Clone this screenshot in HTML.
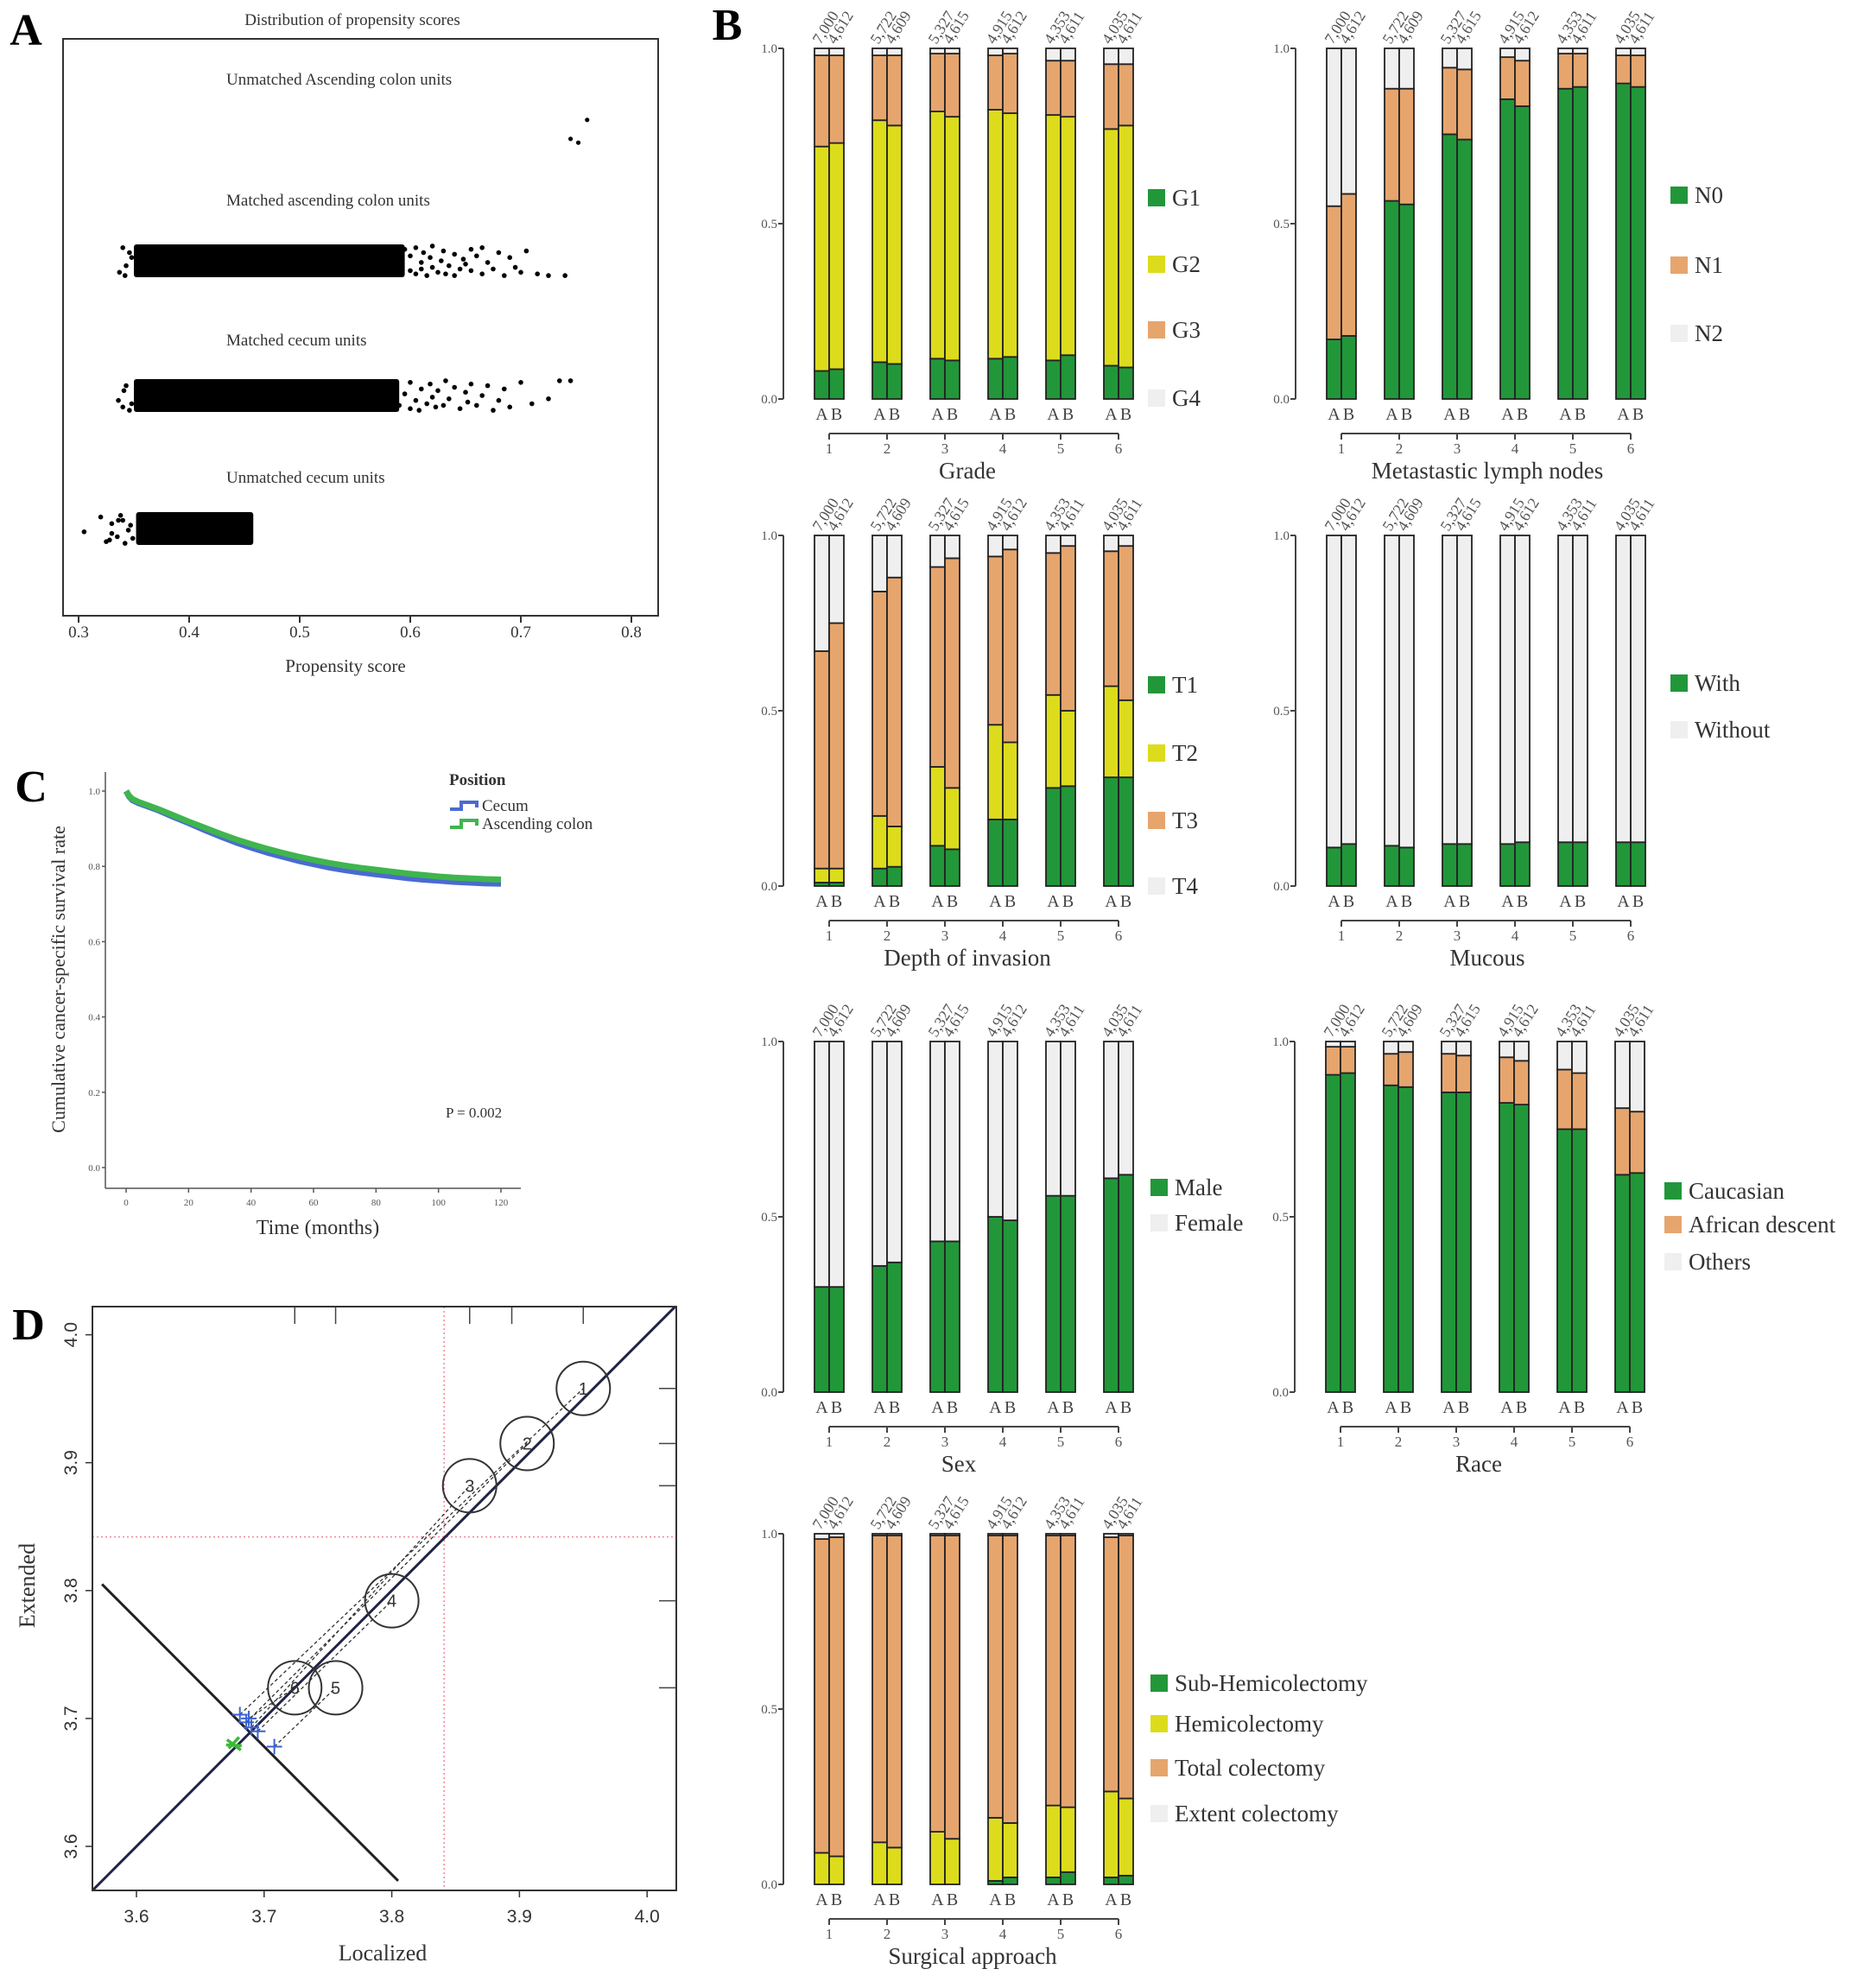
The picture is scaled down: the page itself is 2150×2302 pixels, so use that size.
<!DOCTYPE html>
<html><head><meta charset="utf-8"><style>
html,body{margin:0;padding:0;background:#fff;}
svg{display:block;}
text{font-family:"Liberation Serif",serif;}
.sans{font-family:"Liberation Sans",sans-serif;}
</style></head><body>
<svg id="fig" width="2150" height="2302" viewBox="0 0 2150 2302" xmlns="http://www.w3.org/2000/svg"></svg>
<script>
// ---------- Panel A data ----------
const aTicks = [0.3,0.4,0.5,0.6,0.7,0.8];
const unmatchedAscPts = [0.760,0.745,0.752];
const unmatchedAscJit = [-0.6,0.4,0.6];
const matchedAscCore = [0.35,0.595];
const matchedAscTail = [0.59,0.595,0.60,0.60,0.605,0.605,0.61,0.61,0.612,0.615,0.618,0.62,0.62,0.625,0.628,0.63,0.632,0.635,0.64,0.64,0.645,0.648,0.65,0.655,0.655,0.66,0.665,0.665,0.67,0.675,0.68,0.685,0.69,0.695,0.70,0.705,0.715,0.725,0.74,0.34,0.337,0.343,0.346,0.342,0.348];
const matchedAscJitT = [0.2,-0.7,0.6,-0.3,0.8,-0.8,0.1,0.5,-0.5,0.9,-0.2,0.4,-0.9,0.7,0.0,-0.6,0.8,0.3,-0.4,0.9,0.5,-0.1,0.2,-0.7,0.6,-0.3,0.8,-0.8,0.1,0.5,-0.5,0.9,-0.2,0.4,0.7,-0.6,0.8,0.9,0.9,-0.8,0.7,0.3,-0.5,0.9,-0.2];
const matchedCecCore = [0.35,0.59];
const matchedCecTail = [0.585,0.59,0.595,0.60,0.60,0.605,0.608,0.61,0.615,0.618,0.62,0.623,0.625,0.63,0.632,0.635,0.64,0.645,0.65,0.652,0.655,0.66,0.665,0.67,0.675,0.68,0.685,0.69,0.70,0.71,0.725,0.735,0.745,0.34,0.336,0.343,0.346,0.341,0.348];
const matchedCecJitT = [-0.5,0.6,-0.1,0.8,-0.8,0.3,0.9,-0.4,0.5,-0.7,0.1,0.7,-0.3,0.6,-0.9,0.2,-0.5,0.8,-0.2,0.4,-0.7,0.6,0.0,-0.6,0.9,0.3,-0.4,0.7,-0.8,0.5,0.2,-0.9,-0.9,0.7,0.3,-0.6,0.9,-0.3,0.5];
const unmatchedCecCore = [0.352,0.458];
const unmatchedCecTail = [0.305,0.32,0.325,0.33,0.335,0.34,0.345,0.33,0.328,0.338,0.342,0.347,0.336,0.349];
const unmatchedCecJitT = [0.2,-0.7,0.8,-0.3,0.5,-0.5,0.1,0.3,0.7,-0.8,0.9,-0.2,-0.5,0.6];

// ---------- Panel B data ----------
const groups = ["1","2","3","4","5","6"];
const countsA = ["7,000","5,722","5,327","4,915","4,353","4,035"];
const countsB = ["4,612","4,609","4,615","4,612","4,611","4,611"];
const gradeG1 = [0.08,0.085,0.105,0.10,0.115,0.11,0.115,0.12,0.11,0.125,0.095,0.09];
const gradeG2 = [0.64,0.645,0.69,0.68,0.705,0.695,0.71,0.695,0.70,0.68,0.675,0.69];
const gradeG3 = [0.26,0.25,0.185,0.20,0.165,0.18,0.155,0.17,0.155,0.16,0.185,0.175];
const nodeN0 = [0.17,0.18,0.565,0.555,0.755,0.74,0.855,0.835,0.885,0.89,0.90,0.89];
const nodeN1 = [0.38,0.405,0.32,0.33,0.19,0.20,0.12,0.13,0.10,0.095,0.08,0.09];
const depthT1 = [0.01,0.01,0.05,0.055,0.115,0.105,0.19,0.19,0.28,0.285,0.31,0.31];
const depthT2 = [0.04,0.04,0.15,0.115,0.225,0.175,0.27,0.22,0.265,0.215,0.26,0.22];
const depthT3 = [0.62,0.70,0.64,0.71,0.57,0.655,0.48,0.55,0.405,0.47,0.385,0.44];
const mucWith = [0.11,0.12,0.115,0.11,0.12,0.12,0.12,0.125,0.125,0.125,0.125,0.125];
const sexMale = [0.30,0.30,0.36,0.37,0.43,0.43,0.50,0.49,0.56,0.56,0.61,0.62];
const raceCau = [0.905,0.91,0.875,0.87,0.855,0.855,0.825,0.82,0.75,0.75,0.62,0.625];
const raceAfr = [0.08,0.075,0.09,0.10,0.11,0.105,0.13,0.125,0.17,0.16,0.19,0.175];
const surgSub = [0,0,0,0,0,0,0.01,0.02,0.02,0.035,0.02,0.025];
const surgHemi = [0.09,0.08,0.12,0.105,0.15,0.13,0.18,0.155,0.205,0.185,0.245,0.22];
const surgTotal = [0.895,0.91,0.875,0.89,0.845,0.865,0.805,0.82,0.77,0.775,0.725,0.75];
const bTicks = [0,0.5,1];

// ---------- Panel C data ----------
const months = [0,1,2,4,6,8,10,15,20,25,30,35,40,45,50,55,60,65,70,75,80,85,90,95,100,105,110,115,120];
const survCecum = [1.0,0.985,0.976,0.968,0.962,0.956,0.95,0.932,0.915,0.897,0.88,0.864,0.85,0.837,0.826,0.815,0.806,0.797,0.79,0.784,0.779,0.774,0.769,0.765,0.762,0.759,0.757,0.755,0.754];
const survAsc = [1.0,0.987,0.979,0.971,0.965,0.959,0.953,0.936,0.919,0.903,0.887,0.872,0.859,0.847,0.836,0.826,0.817,0.809,0.802,0.796,0.791,0.786,0.781,0.777,0.773,0.770,0.768,0.766,0.765];
const cXTicks = [0,20,40,60,80,100,120];
const cYTicks = [0,0.2,0.4,0.6,0.8,1.0];

// ---------- Panel D data ----------
const dTicks = [3.6,3.7,3.8,3.9,4.0];
const circLabels = ["1","2","3","4","5","6"];
const circX = [3.950,3.906,3.861,3.800,3.756,3.724];
const circY = [3.958,3.915,3.882,3.792,3.724,3.724];
const plusX = [3.681,3.686,3.690,3.695,3.708,3.688];
const plusY = [3.703,3.697,3.693,3.690,3.678,3.700];
const greenX = [3.677];
const greenY = [3.680];
const refLoc = [3.841];
const refExt = [3.842];
const rugTopX = [3.724,3.756,3.861,3.894,3.950];
const rugRightY = [3.958,3.915,3.882,3.792,3.724];

const NS="http://www.w3.org/2000/svg";
const svg=document.getElementById('fig');
function el(tag,attrs,parent,txt){const e=document.createElementNS(NS,tag);for(const k in attrs)e.setAttribute(k,attrs[k]);if(txt!==undefined)e.textContent=txt;(parent||svg).appendChild(e);return e;}
const GREEN="#21973a",YEL="#dcdc1c",ORA="#e6a56d",GRY="#efefef";

// ================= Panel A =================
const gA=el('g',{});


const ax=v=>91+(v-0.3)*1280;
let t=el('text',{x:30,y:52,'font-size':52,'font-weight':'bold','text-anchor':'middle'},gA,'A');

t=el('text',{x:408,y:29,'font-size':19,fill:'#333','text-anchor':'middle'},gA,'Distribution of propensity scores');

let r=el('rect',{x:73,y:45,width:689,height:668,fill:'none',stroke:'#333','stroke-width':2},gA);

aTicks.forEach(v=>{
  el('line',{x1:ax(v),x2:ax(v),y1:713,y2:721,stroke:'#333','stroke-width':2},gA);
  const tt=el('text',{x:ax(v),y:738,'font-size':19,fill:'#333','text-anchor':'middle'},gA,v.toFixed(1));
  
});
t=el('text',{x:400,y:778,'font-size':21,fill:'#333','text-anchor':'middle'},gA,'Propensity score');

const groupLabels=[["Unmatched Ascending colon units",98],["Matched ascending colon units",238],["Matched cecum units",400],["Unmatched cecum units",559]];
groupLabels.forEach(g=>{const tt=el('text',{x:262,y:g[1],'font-size':19,fill:'#333'},gA,g[0]);});
function band(core,tail,jit,yc,h,name){
  const b=el('rect',{x:ax(core[0]),y:yc-h/2,width:ax(core[1])-ax(core[0]),height:h,fill:'#000',rx:3},gA);
  
  tail.forEach((v,i)=>{const c=el('circle',{cx:ax(v),cy:yc+jit[i]*h/2,r:2.8,fill:'#000'},gA);});
}
unmatchedAscPts.forEach((v,i)=>{const c=el('circle',{cx:ax(v),cy:152+unmatchedAscJit[i]*22,r:2.6,fill:'#000'},gA);});
band(matchedAscCore,matchedAscTail,matchedAscJitT,302,38,'matched-asc');
band(matchedCecCore,matchedCecTail,matchedCecJitT,458,38,'matched-cecum');
band(unmatchedCecCore,unmatchedCecTail,unmatchedCecJitT,612,38,'unmatched-cecum');

// ================= Panel B =================
t=el('text',{x:842,y:46,'font-size':52,'font-weight':'bold','text-anchor':'middle'},svg,'B');


function stackPanel(name,axisX,zeroY,series,colors,labels,legX,legYs,title,titleX){
  const g=el('g',{});
  
  
  const H=406;
  const yv=v=>zeroY-v*H;
  el('line',{x1:axisX,x2:axisX,y1:yv(1),y2:yv(0),stroke:'#444','stroke-width':2},g);
  bTicks.forEach(v=>{
    el('line',{x1:axisX-6,x2:axisX,y1:yv(v),y2:yv(v),stroke:'#444','stroke-width':2},g);
    const tt=el('text',{x:axisX-7,y:yv(v)+5,'font-size':15,fill:'#555','text-anchor':'end'},g,v.toFixed(1));
    
  });
  const gc=i=>axisX+53+67*i;
  groups.forEach((gname,gi)=>{
    [0,1].forEach(k=>{
      const idx=gi*2+k;const x0=gc(gi)-17+17*k;
      let cum=0;
      series.forEach((arr,si)=>{
        const v=arr[idx];
        const rr=el('rect',{x:x0,y:yv(cum+v),width:17,height:v*H,fill:colors[si],stroke:'#222','stroke-width':1.8},g);
        
        
        cum+=v;
      });
      const rest=el('rect',{x:x0,y:yv(1),width:17,height:(1-cum)*H,fill:GRY,stroke:'#222','stroke-width':1.8},g);
      
      
      const ab=el('text',{x:x0+8.5,y:zeroY+24,'font-size':20,fill:'#444','text-anchor':'middle'},g,k?'B':'A');
      
      const cl=el('text',{x:0,y:0,'font-size':18,fill:'#555',transform:`translate(${x0+7},${yv(1)-4}) rotate(-58)`},g,k?countsB[gi]:countsA[gi]);
      
    });
    el('line',{x1:gc(gi),x2:gc(gi),y1:zeroY+40,y2:zeroY+47,stroke:'#444','stroke-width':2},g);
    const gt=el('text',{x:gc(gi),y:zeroY+63,'font-size':17,fill:'#555','text-anchor':'middle'},g,gname);
    
  });
  el('line',{x1:gc(0),x2:gc(5),y1:zeroY+40,y2:zeroY+40,stroke:'#444','stroke-width':2},g);
  const ti=el('text',{x:titleX,y:zeroY+92,'font-size':27,fill:'#333','text-anchor':'middle'},g,title);
  
  labels.forEach((lb,i)=>{
    const sq=el('rect',{x:legX,y:legYs[i]-10,width:20,height:20,fill:i<colors.length?colors[i]:GRY},g);
    
    const lt=el('text',{x:legX+28,y:legYs[i]+9,'font-size':27,fill:'#333'},g,lb);
    
  });
}
stackPanel('grade',907,462,[gradeG1,gradeG2,gradeG3],[GREEN,YEL,ORA],["G1","G2","G3","G4"],1329,[229,306,382,461],'Grade',1120);
stackPanel('lymph-nodes',1500,462,[nodeN0,nodeN1],[GREEN,ORA],["N0","N1","N2"],1934,[226,307,386],'Metastastic lymph nodes',1722);
stackPanel('depth',907,1026,[depthT1,depthT2,depthT3],[GREEN,YEL,ORA],["T1","T2","T3","T4"],1329,[793,872,950,1026],'Depth of invasion',1120);
stackPanel('mucous',1500,1026,[mucWith],[GREEN],["With","Without"],1934,[791,845],'Mucous',1722);
stackPanel('sex',907,1612,[sexMale],[GREEN],["Male","Female"],1332,[1375,1416],'Sex',1110);
stackPanel('race',1499,1612,[raceCau,raceAfr],[GREEN,ORA],["Caucasian","African descent","Others"],1927,[1379,1418,1461],'Race',1712);
stackPanel('surgical',907,2182,[surgSub,surgHemi,surgTotal],[GREEN,YEL,ORA],["Sub-Hemicolectomy","Hemicolectomy","Total colectomy","Extent colectomy"],1332,[1949,1996,2047,2100],'Surgical approach',1126);

// ================= Panel C =================
const gC=el('g',{});


const cx=m=>146+m*(580-146)/120;
const cy=v=>1352-v*(1352-916);
t=el('text',{x:36,y:928,'font-size':52,'font-weight':'bold','text-anchor':'middle'},gC,'C');

el('line',{x1:122,x2:122,y1:894,y2:1376,stroke:'#555','stroke-width':1.5},gC);
el('line',{x1:122,x2:603,y1:1376,y2:1376,stroke:'#555','stroke-width':1.5},gC);
cYTicks.forEach(v=>{
  el('line',{x1:118,x2:122,y1:cy(v),y2:cy(v),stroke:'#555','stroke-width':1.5},gC);
  const tt=el('text',{x:116,y:cy(v)+4,'font-size':11,fill:'#555','text-anchor':'end'},gC,v.toFixed(1));
  
});
cXTicks.forEach(m=>{
  el('line',{x1:cx(m),x2:cx(m),y1:1376,y2:1381,stroke:'#555','stroke-width':1.5},gC);
  const tt=el('text',{x:cx(m),y:1396,'font-size':11,fill:'#555','text-anchor':'middle'},gC,String(m));
  
});
function curvePath(xs,ys){let d=`M${cx(xs[0])},${cy(ys[0])}`;for(let i=1;i<xs.length;i++){d+=`L${cx(xs[i])},${cy(ys[i])}`;}return d;}
let p=el('path',{d:curvePath(months,survCecum),fill:'none',stroke:'#4a6bd0','stroke-width':7,'stroke-linejoin':'round'},gC);

p=el('path',{d:curvePath(months,survAsc),fill:'none',stroke:'#3fb54e','stroke-width':7,'stroke-linejoin':'round'},gC);

t=el('text',{x:0,y:0,'font-size':22,fill:'#333','text-anchor':'middle',transform:'translate(75,1134) rotate(-90)'},gC,'Cumulative cancer-specific survival rate');

t=el('text',{x:368,y:1429,'font-size':24,fill:'#333','text-anchor':'middle'},gC,'Time (months)');

t=el('text',{x:520,y:909,'font-size':19,fill:'#333','font-weight':'bold'},gC,'Position');

[["Cecum",933,'#4a6bd0'],["Ascending colon",954,'#3fb54e']].forEach(l=>{
  const ic=el('path',{d:`M521,${l[1]+4}L534,${l[1]+4}L534,${l[1]-4}L552,${l[1]-4}L552,${l[1]+2}`,fill:'none',stroke:l[2],'stroke-width':4},gC);
  
  const lt=el('text',{x:558,y:l[1]+6,'font-size':19,fill:'#333'},gC,l[0]);
  
});
t=el('text',{x:516,y:1294,'font-size':17,fill:'#333'},gC,'P = 0.002');


// ================= Panel D =================
const gD=el('g',{});


const dx=v=>158+(v-3.6)*1478;
const dy=v=>2138-(v-3.6)*1481;
t=el('text',{x:33,y:1551,'font-size':52,'font-weight':'bold','text-anchor':'middle'},gD,'D');

const clip=el('clipPath',{id:'dclip'},gD);el('rect',{x:107,y:1513,width:676,height:676},clip);
const gDi=el('g',{'clip-path':'url(#dclip)'},gD);
refLoc.forEach(v=>{const l=el('line',{x1:dx(v),x2:dx(v),y1:1513,y2:2189,stroke:'#f08a9a','stroke-width':1.5,'stroke-dasharray':'2,3'},gDi);});
refExt.forEach(v=>{const l=el('line',{x1:107,x2:783,y1:dy(v),y2:dy(v),stroke:'#f08a9a','stroke-width':1.5,'stroke-dasharray':'2,3'},gDi);});
let dl=el('line',{x1:dx(3.5),y1:dy(3.5),x2:dx(4.1),y2:dy(4.1),stroke:'#222248','stroke-width':3},gDi);

dl=el('line',{x1:dx(3.573),y1:dy(3.805),x2:dx(3.805),y2:dy(3.573),stroke:'#222','stroke-width':3},gDi);

circX.forEach((v,i)=>{
  const j=Math.min(i,plusX.length-1);
  const dl2=el('line',{x1:dx(plusX[j]),y1:dy(plusY[j]),x2:dx(v),y2:dy(circY[i]),stroke:'#333','stroke-width':1.3,'stroke-dasharray':'4,3'},gDi);
  
});
circX.forEach((v,i)=>{
  const c=el('circle',{cx:dx(v),cy:dy(circY[i]),r:31,fill:'none',stroke:'#333','stroke-width':2},gDi);
  
  const tt=el('text',{x:dx(v),y:dy(circY[i])+7,'font-size':20,fill:'#333','text-anchor':'middle',class:'sans'},gDi,circLabels[i]);
  
});
plusX.forEach((v,i)=>{
  const x=dx(v),y=dy(plusY[i]);
  const pl=el('path',{d:`M${x-9},${y}L${x+9},${y}M${x},${y-9}L${x},${y+9}`,stroke:'#3b62d0','stroke-width':2},gDi);
  
});
greenX.forEach((v,i)=>{
  const x=dx(v),y=dy(greenY[i]);
  const pl=el('path',{d:`M${x-9},${y-5}L${x+7},${y+7}M${x-7},${y+5}L${x+5},${y-8}M${x-10},${y+1}L${x+8},${y+2}`,stroke:'#3db83a','stroke-width':3.5},gDi);
  
});
rugTopX.forEach(v=>{const l=el('line',{x1:dx(v),x2:dx(v),y1:1513,y2:1533,stroke:'#444','stroke-width':1.5},gD);});
rugRightY.forEach(v=>{const l=el('line',{x1:763,x2:783,y1:dy(v),y2:dy(v),stroke:'#444','stroke-width':1.5},gD);});
r=el('rect',{x:107,y:1513,width:676,height:676,fill:'none',stroke:'#333','stroke-width':2},gD);

dTicks.forEach(v=>{
  el('line',{x1:dx(v),x2:dx(v),y1:2189,y2:2197,stroke:'#333','stroke-width':1.5},gD);
  const tt=el('text',{x:dx(v),y:2226,'font-size':21,fill:'#333','text-anchor':'middle',class:'sans'},gD,v.toFixed(1));
  
  el('line',{x1:99,x2:107,y1:dy(v),y2:dy(v),stroke:'#333','stroke-width':1.5},gD);
  const ty=el('text',{x:0,y:0,'font-size':21,fill:'#333','text-anchor':'middle',class:'sans',transform:`translate(89,${dy(v)}) rotate(-90)`},gD,v.toFixed(1));
  
});
t=el('text',{x:443,y:2270,'font-size':26,fill:'#333','text-anchor':'middle'},gD,'Localized');

t=el('text',{x:0,y:0,'font-size':26,fill:'#333','text-anchor':'middle',transform:'translate(40,1836) rotate(-90)'},gD,'Extended');

</script>
</body></html>
